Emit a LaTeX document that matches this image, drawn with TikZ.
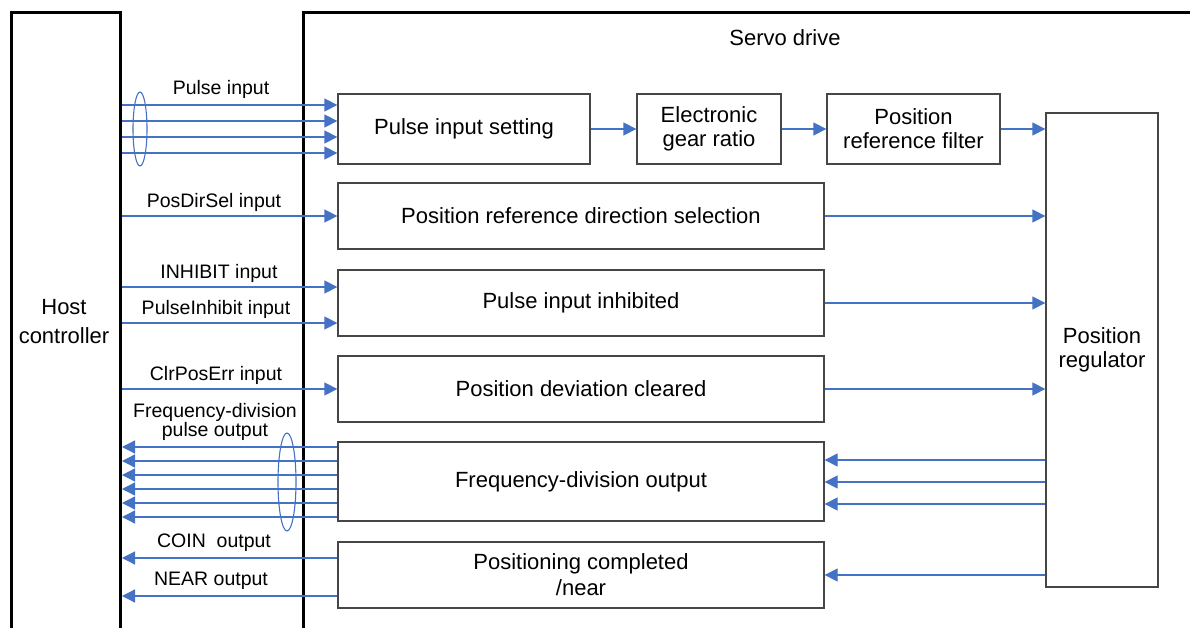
\documentclass[tikz,border=0pt]{standalone}
\usepackage{fontspec}
\setmainfont{Liberation Sans}
\usetikzlibrary{positioning,calc}
\usetikzlibrary{arrows.meta}
\definecolor{SigBlue}{RGB}{68,114,196}
\definecolor{BoxGray}{RGB}{70,70,70}
\tikzset{
	frame/.style={draw=black,line width=3pt,inner sep=0pt},
	blk/.style={draw=BoxGray,line width=1.3pt,fill=white,inner sep=2pt,align=center,
		font=\fontsize{22}{24}\selectfont},
	sig/.style={draw=SigBlue,line width=1.3pt,-{Triangle[length=13pt,width=13pt]}},
	bundle/.style={draw=SigBlue,line width=1.1pt},
	lbl/.style={inner sep=0pt,align=center,font=\fontsize{19.5}{18.5}\selectfont},
	big/.style={inner sep=0pt,align=center,font=\fontsize{22}{29}\selectfont},
}

\begin{document}
\begin{tikzpicture}[x=1pt,y=-1pt]
	\useasboundingbox (0,0) rectangle (1190,628);
	% host and drive frames
	\node[frame,minimum width=109pt,minimum height=700pt,anchor=north west] (host) at (10,11) {};
	\node[frame,minimum width=950pt,minimum height=700pt,anchor=north west] (servo) at (302,11) {};
	\node[big] (hostlbl) at (64,322) {Host\\controller};
	\node[big] (servolbl) at (785,38) {Servo drive};
	% blocks
	\node[blk,minimum width=252pt,minimum height=70pt] (pis) at (464,129) {Pulse input setting};
	\node[blk,minimum width=144pt,minimum height=70pt] (egr) at (709,129) {Electronic\\gear ratio};
	\node[blk,minimum width=173pt,minimum height=70pt] (prf) at (913.5,129) {Position\\reference filter};
	\node[blk,minimum width=112pt,minimum height=474pt] (preg) at (1102,350) {Position\\regulator};
	\node[blk,minimum width=486pt,minimum height=66pt] (pdir) at (581,216) {Position reference direction selection};
	\node[blk,minimum width=486pt,minimum height=66pt] (pinh) at (581,303) {Pulse input inhibited};
	\node[blk,minimum width=486pt,minimum height=66pt] (pdev) at (581,389) {Position deviation cleared};
	\node[blk,minimum width=486pt,minimum height=79pt] (fdo) at (581,481.5) {Frequency-division output};
	\node[blk,minimum width=486pt,minimum height=66pt,font=\fontsize{22}{26}\selectfont] (pcn) at (581,575) {Positioning completed\\/near};
	% signal labels
	\node[lbl] (lpulse) at (221,89) {Pulse input};
	\node[lbl] (ldir) at (214,202) {PosDirSel input};
	\node[lbl] (linh) at (219,273) {INHIBIT input};
	\node[lbl] (lpinh) at (216,309) {PulseInhibit input};
	\node[lbl] (lclr) at (216,375) {ClrPosErr input};
	\node[lbl] (lfdo) at (215,422) {Frequency-division\\pulse output};
	\node[lbl] (lcoin) at (214,543) {COIN\ \ output};
	\node[lbl] (lnear) at (211,581) {NEAR output};
	% inputs from host
	\foreach \y in {105,121,137,153}
		\draw[sig] (host.east |- 0,\y) -- (pis.west |- 0,\y);
	\draw[bundle] (140,129) ellipse [x radius=7pt,y radius=37pt];
	\draw[sig] (host.east |- pdir.west) -- (pdir.west);
	\draw[sig] (host.east |- 0,287) -- (pinh.west |- 0,287);
	\draw[sig] (host.east |- 0,323) -- (pinh.west |- 0,323);
	\draw[sig] (host.east |- pdev.west) -- (pdev.west);
	% outputs to host
	\foreach \y in {447,461,475,489,503,517}
		\draw[sig] (fdo.west |- 0,\y) -- (host.east |- 0,\y);
	\draw[bundle] (287,482) ellipse [x radius=9pt,y radius=49pt];
	\draw[sig] (pcn.west |- 0,558) -- (host.east |- 0,558);
	\draw[sig] (pcn.west |- 0,596) -- (host.east |- 0,596);
	% inside the drive
	\draw[sig] (pis) -- (egr);
	\draw[sig] (egr) -- (prf);
	\draw[sig] (prf) -- (preg.west |- prf);
	\draw[sig] (pdir.east) -- (preg.west |- pdir.east);
	\draw[sig] (pinh.east) -- (preg.west |- pinh.east);
	\draw[sig] (pdev.east) -- (preg.west |- pdev.east);
	\foreach \y in {460,482,504}
		\draw[sig] (preg.west |- 0,\y) -- (fdo.east |- 0,\y);
	\draw[sig] (preg.west |- pcn.east) -- (pcn.east);
\end{tikzpicture}
\end{document}
